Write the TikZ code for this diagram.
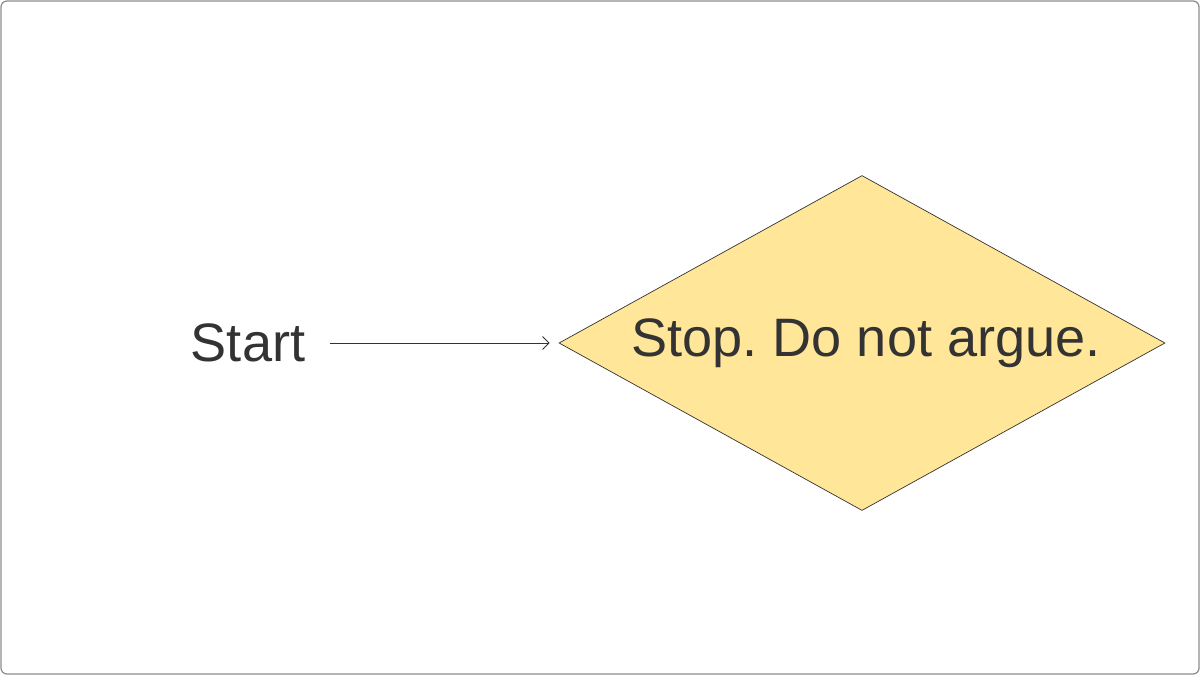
\documentclass[tikz,border=0pt]{standalone}
\usepackage{fontspec}
\setmainfont{Liberation Sans}
\frenchspacing
\definecolor{NoteYellow}{HTML}{FFE699}
\definecolor{InkGray}{HTML}{333333}
\definecolor{FrameGray}{HTML}{8C8C8C}
\usepackage{tikz}
\usetikzlibrary{
    shapes.geometric,
    arrows.meta,
    positioning,
}
\begin{document}
\begin{tikzpicture}[
    label/.style={font=\fontsize{30.8}{36}\selectfont, text=InkGray, inner ysep=0pt, inner xsep=0.48cm},
    decision/.style={diamond, aspect=1.81, draw=InkGray, line width=0.4pt, fill=NoteYellow, minimum width=12.12cm, minimum height=6.7cm, inner sep=0pt, font=\fontsize{30.8}{36}\selectfont, text=InkGray},
    arr/.style={-{Straight Barb[length=1.3mm, width=2.6mm]}, line width=0.5pt, InkGray, shorten >=0.18cm}
]
    \useasboundingbox (0,0) rectangle (24,13.5);
    \draw[FrameGray, line width=0.7pt, rounded corners=0.12cm] (0.02,0.02) rectangle (23.98,13.48);
    \node[label] (start) at (4.96, 6.64) {Start};
    \node[decision] (stop) at (17.24, 6.64) {\hspace*{0.16cm}Stop. Do not argue.};
    \draw[arr] (start) -- (stop);
\end{tikzpicture}
\end{document}
